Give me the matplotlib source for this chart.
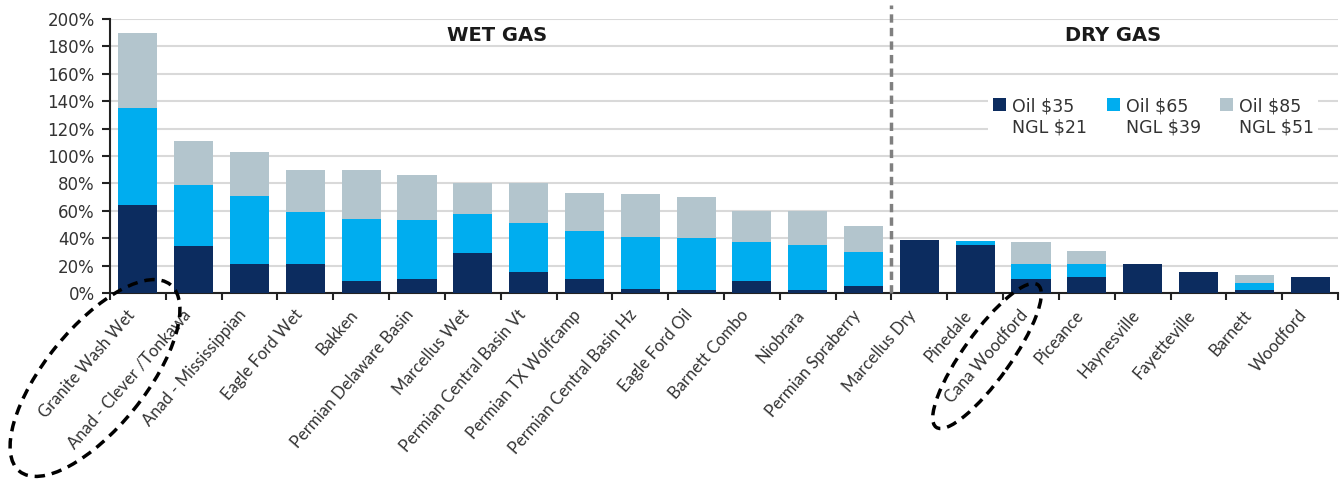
import matplotlib
matplotlib.use("Agg")
import matplotlib.pyplot as plt
import matplotlib.transforms as mtransforms
from matplotlib.patches import Ellipse, Rectangle
from matplotlib.legend_handler import HandlerPatch
from matplotlib.ticker import FuncFormatter
import numpy as np

# plays, wet gas first then dry gas
plays = ["Granite Wash Wet", "Anad - Clever /Tonkawa", "Anad - Mississippian",
         "Eagle Ford Wet", "Bakken", "Permian Delaware Basin", "Marcellus Wet",
         "Permian Central Basin Vt", "Permian TX Wolfcamp", "Permian Central Basin Hz",
         "Eagle Ford Oil", "Barnett Combo", "Niobrara", "Permian Spraberry",
         "Marcellus Dry", "Pinedale", "Cana Woodford", "Piceance", "Haynesville",
         "Fayetteville", "Barnett", "Woodford"]

# returns (fraction) under each price deck
oil35 = [0.64, 0.34, 0.21, 0.21, 0.09, 0.10, 0.29, 0.15, 0.10, 0.03, 0.02, 0.09, 0.02, 0.05,
         0.39, 0.35, 0.10, 0.12, 0.21, 0.15, 0.02, 0.12]
oil65 = [1.35, 0.79, 0.71, 0.59, 0.54, 0.53, 0.58, 0.51, 0.45, 0.41, 0.40, 0.37, 0.35, 0.30,
         0.39, 0.38, 0.21, 0.21, 0.21, 0.15, 0.07, 0.12]
oil85 = [1.90, 1.11, 1.03, 0.90, 0.90, 0.86, 0.80, 0.80, 0.73, 0.72, 0.70, 0.60, 0.60, 0.49,
         0.39, 0.38, 0.37, 0.31, 0.21, 0.15, 0.13, 0.12]

series_labels = ["Oil \\$35\nNGL \\$21", "Oil \\$65\nNGL \\$39", "Oil \\$85\nNGL \\$51"]
n_wet = 14

c_navy = "#0c2c5f"
c_blue = "#00adef"
c_grey = "#b3c5cd"

fig = plt.figure(figsize=(13.42, 4.84), dpi=100)
ax = fig.add_axes([110/1342, 191/484, 1228/1342, 274/484])

x = np.arange(len(plays))
w = 0.70
# bars overlap: highest deck behind
b85 = ax.bar(x, oil85, w, color=c_grey, zorder=2)
b65 = ax.bar(x, oil65, w, color=c_blue, zorder=3)
b35 = ax.bar(x, oil35, w, color=c_navy, zorder=4)

ax.set_xlim(-0.5, len(plays) - 0.5)
ax.set_ylim(0, 2.0)
ax.set_yticks(np.arange(0, 2.01, 0.2))
ax.yaxis.set_major_formatter(FuncFormatter(lambda v, p: "%d%%" % round(v * 100)))
ax.grid(axis="y", color="#d9d9d9", lw=1.5, zorder=0)
ax.set_axisbelow(True)

for s in ["top", "right"]:
    ax.spines[s].set_visible(False)
for s in ["left", "bottom"]:
    ax.spines[s].set_color("#222222")
    ax.spines[s].set_linewidth(1.5)

ax.set_xticks(x)
ax.set_xticklabels(plays, rotation=49, ha="right", rotation_mode="anchor",
                   fontsize=12, family="Lato", color="#333333")
ax.tick_params(axis="x", which="major", length=0, pad=10)
# nudge the slanted labels a little left, like the original
shift = mtransforms.ScaledTranslation(-12 / 100, 0, fig.dpi_scale_trans)
for lab in ax.get_xticklabels():
    lab.set_transform(lab.get_transform() + shift)
ax.set_xticks(np.arange(-0.5, len(plays), 1.0), minor=True)
ax.tick_params(axis="x", which="minor", length=5, width=1.5, color="#222222", direction="out")
ax.tick_params(axis="y", length=6, width=1.5, color="#222222", labelsize=12,
               labelcolor="#333333", pad=5)

# wet / dry divider
ax.plot([n_wet - 0.5, n_wet - 0.5], [0, 2.1], color="#808080", lw=2.5,
        ls=(0, (2.4, 1.5)), clip_on=False, zorder=5)

ax.text(6.44, 1.883, "WET GAS", ha="center", va="center", fontsize=14,
        fontweight="bold", family="DejaVu Sans", color="#1a1a1a")
ax.text(17.47, 1.883, "DRY GAS", ha="center", va="center", fontsize=14,
        fontweight="bold", family="DejaVu Sans", color="#1a1a1a")


def top_square(legend, orig_handle, xdescent, ydescent, width, height, fontsize):
    # square next to the first line of the two-line label
    s = 0.75 * fontsize
    return Rectangle((-xdescent + width - s, -ydescent + height * 0.5 + 0.38 * fontsize), s, s)


handles = [b35.patches[0], b65.patches[0], b85.patches[0]]
leg = ax.legend(handles, series_labels, ncol=3, loc="upper left",
                bbox_to_anchor=(0.708, 0.762), frameon=True, fancybox=False,
                edgecolor="none", facecolor="white", framealpha=1,
                handlelength=0.8, handletextpad=0.35,
                columnspacing=1.05, borderpad=0.25,
                prop={"family": "DejaVu Sans", "size": 12.5},
                handler_map={Rectangle: HandlerPatch(patch_func=top_square)})
leg.set_zorder(6)
for t in leg.get_texts():
    t.set_color("#333333")
    t.set_linespacing(1.2)

# dashed highlight rings drawn in pixel space
pix = mtransforms.IdentityTransform()
fig.add_artist(Ellipse((95, 484 - 378), 240, 100, angle=51, transform=pix,
                       fill=False, ec="black", lw=2.5, ls=(0, (3, 2)), clip_on=False))
fig.add_artist(Ellipse((987, 484 - 356), 175, 47, angle=54.5, transform=pix,
                       fill=False, ec="black", lw=2.5, ls=(0, (3, 2)), clip_on=False))

fig.savefig("out.png", dpi=100)
